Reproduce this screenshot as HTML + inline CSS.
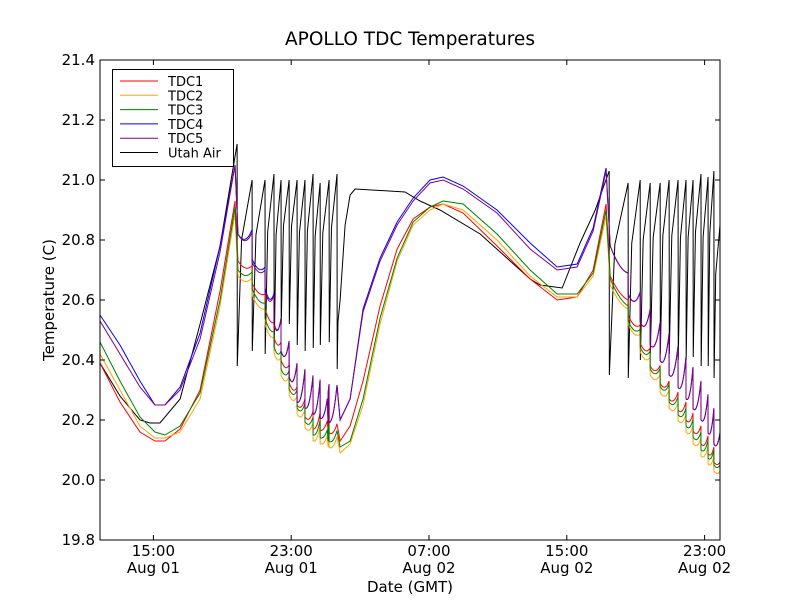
<!DOCTYPE html>
<html><head><meta charset="utf-8"><style>
html,body{margin:0;padding:0;background:#fff;}
svg{display:block;font-family:"DejaVu Sans","Liberation Sans",sans-serif;}
</style></head><body>
<svg id="chart" width="800" height="600" viewBox="0 0 800 600">
<rect x="0" y="0" width="800" height="600" fill="#fff"/>
<text x="410" y="45" font-size="18.5" text-anchor="middle">APOLLO TDC Temperatures</text>
<g id="plot"></g>
<g id="axes"></g>
<text x="410" y="592" font-size="15" text-anchor="middle">Date (GMT)</text>
<text transform="translate(54,300) rotate(-90)" font-size="15" text-anchor="middle">Temperature (C)</text>
<g id="legend"></g>
</svg>
<script>
// ---- data (hours since Aug 01 00:00 GMT) ----
const knotHours=[11.90,13.06,14.22,15.09,15.67,16.55,17.71,18.87,19.74,19.91,20.78,21.48,22.41,23.34,24.27,25.14,25.84,26.42,27.17,28.16,29.15,30.08,31.06,31.82,32.98,34.95,36.87,38.44,39.60,40.53,41.28,41.52,42.56,43.84,44.94,45.93,46.80,47.54,47.90];
const tdc1=[20.39,20.26,20.16,20.13,20.13,20.17,20.30,20.63,20.93,20.73,20.65,20.57,20.40,20.25,20.17,20.16,20.13,20.18,20.33,20.58,20.77,20.87,20.91,20.92,20.89,20.78,20.67,20.60,20.61,20.70,20.92,20.68,20.55,20.38,20.27,20.20,20.12,20.06,20.03];
const tdc2=[20.42,20.30,20.18,20.14,20.14,20.16,20.27,20.58,20.89,20.68,20.61,20.52,20.35,20.22,20.13,20.11,20.09,20.12,20.25,20.52,20.73,20.85,20.90,20.92,20.90,20.80,20.68,20.61,20.61,20.68,20.88,20.65,20.52,20.35,20.24,20.16,20.08,20.03,20.00];
const tdc3=[20.46,20.33,20.21,20.16,20.15,20.18,20.29,20.60,20.91,20.70,20.63,20.54,20.37,20.24,20.15,20.13,20.11,20.13,20.27,20.54,20.74,20.86,20.91,20.93,20.92,20.82,20.70,20.62,20.62,20.69,20.90,20.67,20.53,20.37,20.26,20.18,20.10,20.05,20.02];
const tdc4=[20.55,20.45,20.33,20.25,20.25,20.31,20.49,20.78,21.05,20.82,20.73,20.64,20.43,20.26,20.22,20.19,20.20,20.27,20.57,20.74,20.86,20.94,21.00,21.01,20.98,20.90,20.79,20.71,20.72,20.84,21.04,20.78,20.62,20.45,20.35,20.27,20.20,20.12,20.08];
const tdc5=[20.53,20.42,20.31,20.25,20.25,20.30,20.47,20.76,21.05,20.82,20.72,20.63,20.43,20.26,20.22,20.19,20.20,20.27,20.56,20.73,20.85,20.93,20.99,21.00,20.97,20.89,20.77,20.70,20.71,20.83,21.03,20.78,20.62,20.45,20.35,20.27,20.20,20.12,20.08];
const leftDrops=[19.86,20.73,21.48,22.00,22.41,22.88,23.34,23.80,24.27,24.68,25.20,25.66];
const rightDrops=[41.46,42.56,43.26,43.84,44.42,44.94,45.46,45.92,46.33,46.79,47.20,47.54,47.90];
const leftAmpHi=[0.10,0.07,0.10,0.11,0.12,0.13,0.13,0.13,0.13,0.13,0.12];
const leftAmpLo=[0.06,0.05,0.05,0.06,0.06,0.06,0.06,0.06,0.06,0.06,0.05];
const rightAmpHi=[0.07,0.10,0.12,0.13,0.14,0.14,0.14,0.14,0.13,0.13,0.12,0.08];
const rightAmpLo=[0.05,0.06,0.06,0.06,0.06,0.06,0.06,0.06,0.06,0.06,0.05,0.03];
const airPreHours=[11.90,13.06,14.22,14.80,15.38,16.55,17.71,18.87];
const airPreVals=[20.39,20.28,20.20,20.19,20.19,20.27,20.52,20.78];
const leftAirPeaks=[21.12,21.00,21.00,21.02,21.00,21.00,21.00,21.00,21.02,20.99,21.00,21.02];
const leftAirTroughs=[20.38,20.43,20.42,20.43,20.52,20.52,20.45,20.43,20.44,20.45,20.46,20.37];
const airMidHours=[25.84,26.13,26.42,26.71,29.61,30.48,31.64,33.97,36.87,37.45,38.73,39.77,40.65];
const airMidVals=[20.60,20.85,20.95,20.97,20.96,20.93,20.90,20.82,20.67,20.65,20.64,20.79,20.90];
const rightAirPeaks=[21.03,20.99,21.00,20.99,20.99,21.00,21.00,21.00,21.00,21.02,21.01,21.03];
const rightAirTroughs=[20.35,20.34,20.40,20.42,20.42,20.42,20.40,20.40,20.41,20.38,20.38,20.34];
const airEndVal=20.85;
const yTicks=[19.8,20.0,20.2,20.4,20.6,20.8,21.0,21.2,21.4];
const yTickLabels=["19.8","20.0","20.2","20.4","20.6","20.8","21.0","21.2","21.4"];
const xTicks=[15,23,31,39,47];
const xTickTimes=["15:00","23:00","07:00","15:00","23:00"];
const xTickDates=["Aug 01","Aug 01","Aug 02","Aug 02","Aug 02"];

// ---- axes ----
const L=100,R=720,T=60,B=540,H0=11.9,H1=47.894,V0=19.8,V1=21.4;
const X=h=>L+(h-H0)/(H1-H0)*(R-L);
const Y=v=>B-(v-V0)/(V1-V0)*(B-T);
const NS="http://www.w3.org/2000/svg";
function mk(tag,attrs,parent){const e=document.createElementNS(NS,tag);for(const k in attrs)e.setAttribute(k,attrs[k]);parent.appendChild(e);return e;}
const plot=document.getElementById('plot'),axes=document.getElementById('axes'),legend=document.getElementById('legend');
mk('clipPath',{id:'clip'},plot);
mk('rect',{x:L,y:T,width:R-L,height:B-T},document.getElementById('clip'));

function interp(hs,vs,t){if(t<=hs[0])return vs[0];for(let i=1;i<hs.length;i++){if(t<=hs[i]){const f=(t-hs[i-1])/(hs[i]-hs[i-1]);return vs[i-1]+f*(vs[i]-vs[i-1]);}}return vs[vs.length-1];}
function tdcPoints(base,hi){
  const pts=[];
  knotHours.forEach((h,i)=>pts.push([h,base[i]]));
  [[leftDrops,hi?leftAmpHi:leftAmpLo],[rightDrops,hi?rightAmpHi:rightAmpLo]].forEach(([d,a])=>{
    for(let i=0;i<a.length;i++){const s=d[i],e=d[i+1];
      for(let k=0;k<=10;k++){const f=k===10?0.995:k/10;const t=s+f*(e-s);pts.push([t,interp(knotHours,base,t)+a[i]*Math.pow(f,2.2)]);}
    }
  });
  pts.sort((p,q)=>p[0]-q[0]);return pts;
}
function airPoints(){
  const pts=[];
  airPreHours.forEach((h,i)=>pts.push([h,airPreVals[i]]));
  function saw(d,pk,tr,nextH,nextV){
    for(let i=0;i<pk.length;i++){pts.push([d[i],pk[i]]);pts.push([d[i]+0.01,tr[i]]);
      const e=i+1<pk.length?d[i+1]:nextH,ev=i+1<pk.length?pk[i+1]:nextV;
      pts.push([d[i]+0.3*(e-d[i]),tr[i]+0.68*(ev-tr[i])]);}
  }
  saw(leftDrops,leftAirPeaks,leftAirTroughs,airMidHours[0],airMidVals[0]);
  airMidHours.forEach((h,i)=>pts.push([h,airMidVals[i]]));
  saw(rightDrops,rightAirPeaks,rightAirTroughs,H1,airEndVal);
  pts.push([H1,airEndVal]);
  return pts;
}
const series=[
 {name:'TDC1',color:'#ff0000',pts:tdcPoints(tdc1,false)},
 {name:'TDC2',color:'#ffa500',pts:tdcPoints(tdc2,false)},
 {name:'TDC3',color:'#008000',pts:tdcPoints(tdc3,false)},
 {name:'TDC4',color:'#0000ff',pts:tdcPoints(tdc4,true)},
 {name:'TDC5',color:'#800080',pts:tdcPoints(tdc5,true)},
 {name:'Utah Air',color:'#000000',pts:airPoints()}
];
const drawOrder=[5,0,1,2,3,4];
drawOrder.forEach(si=>{const s=series[si];
  const p=mk('path',{d:s.pts.map((q,i)=>(i?'L':'M')+X(q[0]).toFixed(2)+','+Y(q[1]).toFixed(2)).join(''),fill:'none',stroke:s.color,'stroke-width':1,'clip-path':'url(#clip)'},plot);
  
  
});
const frame=mk('rect',{x:L,y:T,width:R-L,height:B-T,fill:'none',stroke:'#000','stroke-width':1},axes);


yTicks.forEach((v,i)=>{const y=Y(v);
  mk('line',{x1:L,x2:L+5,y1:y,y2:y,stroke:'#000'},axes);mk('line',{x1:R,x2:R-5,y1:y,y2:y,stroke:'#000'},axes);
  const t=mk('text',{x:L-5,y:y+5,'font-size':15,'text-anchor':'end'},axes);t.textContent=yTickLabels[i];
  
  
});
xTicks.forEach((h,i)=>{const x=X(h);
  mk('line',{x1:x,x2:x,y1:B,y2:B-5,stroke:'#000'},axes);mk('line',{x1:x,x2:x,y1:T,y2:T+5,stroke:'#000'},axes);
  const t=mk('text',{x:x,y:556,'font-size':15,'text-anchor':'middle'},axes);t.textContent=xTickTimes[i];
  
  
  const d=mk('text',{x:x,y:573,'font-size':15,'text-anchor':'middle'},axes);d.textContent=xTickDates[i];
  
  
});
// legend
const lb=mk('rect',{x:112.5,y:69.5,width:121,height:97,fill:'#fff',stroke:'#000','stroke-width':1},legend);


series.forEach((s,i)=>{const y=81+i*14.3;
  const g=mk('g',{},legend);
  
  
  mk('line',{x1:120,x2:158,y1:y,y2:y,stroke:s.color,'stroke-width':1},g);
  const t=mk('text',{x:168,y:y+5,'font-size':13},g);t.textContent=s.name;
});
</script>
</body></html>
